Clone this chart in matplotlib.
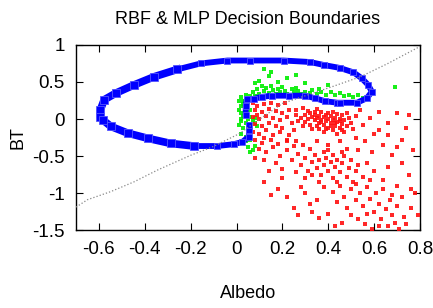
import matplotlib
matplotlib.use("Agg")
import matplotlib.pyplot as plt

plt.rcParams['font.family'] = ['Liberation Sans', 'DejaVu Sans']

# RBF boundary (blue)
rbf_x = [0.04, 0.04, 0.045, 0.074, 0.11, 0.155, 0.23, 0.30, 0.343, 0.387, 0.44, 0.452,
         0.525, 0.568, 0.59, 0.574, 0.546, 0.51, 0.45, 0.38, 0.32, 0.205, 0.06, -0.04,
         -0.157, -0.258, -0.36, -0.447, -0.526, -0.577, -0.594, -0.594, -0.584, -0.548,
         -0.475, -0.388, -0.287, -0.186, -0.084, -0.012, 0.025, 0.053, 0.055, 0.055]
rbf_y = [0.05, 0.18, 0.27, 0.27, 0.30, 0.315, 0.315, 0.315, 0.28, 0.24, 0.22, 0.22,
         0.22, 0.28, 0.37, 0.46, 0.55, 0.63, 0.69, 0.73, 0.77, 0.79, 0.79, 0.79,
         0.75, 0.67, 0.57, 0.46, 0.35, 0.26, 0.12, 0.03, -0.01, -0.10,
         -0.19, -0.26, -0.33, -0.365, -0.365, -0.34, -0.31, -0.24, -0.15, -0.08]

# MLP boundary (dotted grey)
mlp_x = [-0.70, -0.65, -0.548, -0.448, -0.345, -0.2, -0.1, 0.017, 0.074, 0.2, 0.42, 0.54, 0.66, 0.80]
mlp_y = [-1.19, -1.09, -0.98, -0.85, -0.69, -0.49, -0.37, -0.19, -0.06, 0.21, 0.44, 0.57, 0.75, 0.98]

# class 1 samples (red)
red = [
    (0.07,0.22),(0.09,0.18),(0.12,0.20),(0.15,0.22),(0.18,0.19),(0.21,0.21),(0.08,0.12),(0.11,0.10),
    (0.14,0.14),(0.17,0.11),(0.20,0.08),(0.23,0.12),(0.07,0.03),(0.10,0.00),(0.13,0.04),(0.16,0.01),
    (0.19,-0.02),(0.22,0.03),(0.08,-0.07),(0.11,-0.10),(0.14,-0.05),(0.17,-0.09),(0.20,-0.12),(0.24,-0.06),
    (0.07,-0.17),(0.10,-0.20),(0.13,-0.15),(0.16,-0.22),(0.19,-0.18),(0.23,-0.21),(0.08,-0.28),(0.11,-0.32),
    (0.15,-0.29),(0.18,-0.34),(0.22,-0.30),(0.25,-0.15),(0.26,0.05),(0.09,0.06),(0.06,-0.12),(0.12,-0.25),
    (0.28,0.02),(0.30,0.06),(0.30,-0.04),(0.31,0.00),(0.32,0.08),(0.32,-0.08),(0.33,0.03),(0.34,-0.02),
    (0.34,0.06),(0.35,-0.10),(0.35,0.01),(0.36,0.04),(0.36,-0.05),(0.37,0.09),(0.37,-0.01),(0.38,-0.08),
    (0.38,0.03),(0.39,-0.03),(0.39,0.06),(0.40,-0.12),(0.40,0.00),(0.41,-0.06),(0.41,0.04),(0.42,-0.02),
    (0.42,-0.15),(0.43,0.02),(0.43,-0.09),(0.44,-0.04),(0.44,0.07),(0.45,-0.12),(0.45,0.00),(0.46,-0.07),
    (0.46,0.05),(0.47,-0.02),(0.47,-0.18),(0.48,-0.10),(0.49,0.02),(0.50,-0.05),(0.51,-0.14),(0.52,0.04),
    (0.36,-0.14),(0.33,-0.13),(0.29,-0.09),(0.27,-0.03),(0.40,0.08),(0.44,-0.20),(0.38,-0.18),(0.42,0.10),
    (0.48,0.08),(0.31,0.11),(0.26,0.12),(0.29,0.15),(0.35,0.13),(0.41,-0.10),(0.39,-0.13),(0.43,-0.06),
    (0.37,-0.04),(0.45,-0.03),(0.34,0.10),(0.46,-0.15),
    (0.54,0.12),(0.58,0.02),(0.62,0.10),(0.55,-0.08),(0.60,-0.20),(0.66,-0.05),(0.70,0.08),(0.74,-0.12),
    (0.56,-0.30),(0.64,-0.35),(0.72,-0.28),(0.77,-0.42),(0.53,-0.42),(0.68,-0.48),(0.59,-0.45),(0.75,0.05),
    (0.62,-0.15),(0.52,-0.25),(0.70,-0.38),(0.66,-0.22),
    (0.10,-0.40),(0.13,-0.45),(0.16,-0.38),(0.19,-0.50),(0.22,-0.42),(0.25,-0.36),(0.12,-0.55),(0.17,-0.60),
    (0.20,-0.68),(0.24,-0.55),(0.27,-0.47),(0.28,-0.62),(0.30,-0.52),(0.31,-0.70),(0.32,-0.40),(0.33,-0.58),
    (0.34,-0.48),(0.35,-0.66),(0.36,-0.55),(0.37,-0.75),(0.38,-0.45),(0.38,-0.62),(0.39,-0.52),(0.40,-0.70),
    (0.41,-0.58),(0.42,-0.48),(0.42,-0.80),(0.43,-0.65),(0.44,-0.55),(0.45,-0.72),(0.46,-0.60),(0.47,-0.50),
    (0.48,-0.78),(0.49,-0.66),(0.50,-0.56),(0.51,-0.85),(0.52,-0.70),(0.53,-0.62),(0.26,-0.30),(0.29,-0.35),
    (0.22,-0.28),(0.35,-0.30),(0.40,-0.35),(0.45,-0.30),(0.48,-0.40),(0.30,-0.80),(0.26,-0.72),(0.14,-0.70),
    (0.08,-0.52),(0.44,-0.85),(0.36,-0.85),(0.55,-0.78),(0.57,-0.60),(0.40,-0.42),(0.33,-0.75),(0.46,-0.45),
    (0.38,-0.92),(0.42,-0.98),(0.45,-0.90),(0.47,-1.05),(0.50,-0.95),(0.52,-1.10),(0.54,-1.00),(0.55,-1.18),
    (0.57,-0.92),(0.58,-1.08),(0.60,-1.25),(0.61,-1.00),(0.62,-1.15),(0.63,-1.35),(0.64,-0.95),(0.65,-1.22),
    (0.66,-1.45),(0.67,-1.10),(0.68,-1.30),(0.69,-1.40),(0.70,-1.18),(0.71,-1.48),(0.72,-1.05),(0.73,-1.32),
    (0.74,-1.42),(0.76,-1.20),(0.78,-1.00),(0.48,-1.20),(0.44,-1.12),(0.40,-1.28),(0.53,-1.35),(0.56,-1.42),
    (0.59,-1.48),(0.62,-1.45),(0.35,-1.10),(0.50,-1.30),(0.46,-1.40),(0.64,-0.82),(0.70,-0.90),(0.75,-0.75),
    (0.60,-0.70),(0.66,-0.65),(0.72,-0.60),(0.57,-1.28),(0.68,-1.02),(0.52,-0.88),(0.43,-1.45),(0.58,-0.82),
    (0.79,-1.30),(0.76,-0.95),
    (0.12,-0.85),(0.18,-0.95),(0.22,-1.05),(0.28,-0.92),(0.32,-1.15),(0.36,-1.34),(0.25,-1.20),(0.15,-1.02),
    (0.30,-1.00),(0.20,-0.80),(0.33,-1.25),(0.27,-1.30),
]

# class 2 samples (green)
green = [
    (0.02,0.30),(0.04,0.33),(0.06,0.31),(0.03,0.25),(0.05,0.22),(0.02,0.18),(0.04,0.15),(0.06,0.12),
    (0.02,0.08),(0.03,0.04),(0.05,0.00),(0.06,0.03),(0.02,-0.03),(0.04,-0.06),(0.07,-0.02),(0.03,-0.12),
    (0.05,-0.15),(0.02,-0.20),(0.04,-0.24),(0.06,-0.28),(0.03,-0.32),(0.05,-0.38),(0.07,-0.42),(0.01,0.12),
    (0.01,-0.08),(0.08,-0.05),(0.09,-0.10),(0.03,0.20),(0.02,0.00),(0.04,-0.30),(0.08,-0.36),(0.06,-0.45),
    (0.01,0.25),(0.06,0.27),(0.08,0.02),
    (0.07,0.36),(0.09,0.40),(0.10,0.34),(0.12,0.38),(0.13,0.42),(0.14,0.35),(0.16,0.39),(0.17,0.34),
    (0.18,0.41),(0.19,0.36),(0.21,0.38),(0.22,0.34),(0.24,0.40),(0.25,0.36),(0.27,0.38),(0.28,0.34),
    (0.30,0.37),(0.32,0.35),(0.33,0.39),(0.35,0.34),(0.37,0.37),(0.39,0.33),(0.41,0.36),(0.43,0.32),
    (0.45,0.35),(0.47,0.31),(0.49,0.33),(0.51,0.30),(0.53,0.32),(0.55,0.29),(0.11,0.45),(0.15,0.44),
    (0.20,0.43),(0.08,0.31),(0.26,0.42),(0.36,0.40),
    (0.10,0.52),(0.14,0.58),(0.18,0.50),(0.22,0.55),(0.15,0.64),(0.30,0.48),(0.26,0.60),(0.08,0.48),
    (0.69,0.43),(0.59,0.36),(0.40,0.46),(0.12,0.68),
]

xticks = [-0.6, -0.4, -0.2, 0, 0.2, 0.4, 0.6, 0.8]
xtick_labels = ['-0.6', '-0.4', '-0.2', '0', '0.2', '0.4', '0.6', '0.8']
yticks = [-1.5, -1, -0.5, 0, 0.5, 1]
ytick_labels = ['-1.5', '-1', '-0.5', '0', '0.5', '1']

fig = plt.figure(figsize=(4.33, 3.08), dpi=100)
ax = fig.add_axes([0.1755, 0.253, 0.7945, 0.601])

gx, gy = zip(*green)
rx, ry = zip(*red)
ax.plot(gx, gy, 's', color='#00ee00', markersize=2.5, markeredgewidth=0, alpha=0.9, zorder=2)
ax.plot(rx, ry, 's', color='#ff1010', markersize=2.5, markeredgewidth=0, alpha=0.9, zorder=3)
ax.plot(rbf_x, rbf_y, '-s', color='#0000ff', linewidth=4.2, markersize=5,
        markeredgecolor='#5555ff', markeredgewidth=0.6, zorder=4)
# the left-hand side of the loop is drawn heavier in the original
ax.plot(rbf_x[25:38], rbf_y[25:38], '-s', color='#0000ff', linewidth=5.5, markersize=6,
        markeredgecolor='#5555ff', markeredgewidth=0.6, zorder=4)
ax.plot(mlp_x, mlp_y, ':', color='#888888', linewidth=0.9, zorder=5)

ax.set_xlim(-0.7, 0.8)
ax.set_ylim(-1.5, 1)
ax.set_xticks(xticks)
ax.set_xticklabels(xtick_labels)
ax.set_yticks(yticks)
ax.set_yticklabels(ytick_labels)
ax.tick_params(direction='in', top=True, right=True, length=5, labelsize=13.5)
ax.tick_params(axis='x', pad=8)
ax.tick_params(axis='y', pad=8)
for s in ax.spines.values():
    s.set_linewidth(1.0)

ax.set_title('RBF & MLP Decision Boundaries', fontsize=13, pad=15)
ax.set_xlabel('Albedo', fontsize=13, labelpad=19)
ax.set_ylabel('BT', fontsize=13, labelpad=4)

fig.savefig('out.png', dpi=100)
